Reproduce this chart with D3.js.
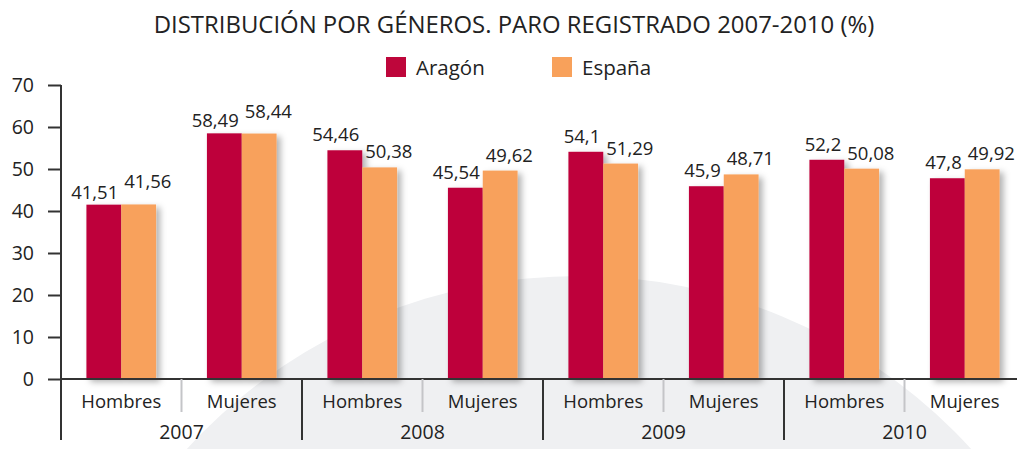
<!DOCTYPE html>
<html>
<head>
<meta charset="utf-8">
<script src="https://cdn.jsdelivr.net/npm/d3@7"></script>
<style>
  body { margin: 0; background: #fff; }
  text { font-family: "Open Sans", "Noto Sans", sans-serif; fill: #222; }
</style>
</head>
<body>
<script>
var anios = ["2007", "2008", "2009", "2010"];
var sexos = ["Hombres", "Mujeres"];
var series = ["Aragón", "España"];
var aragon = [41.51, 58.49, 54.46, 45.54, 54.1, 45.9, 52.2, 47.8];
var espana = [41.56, 58.44, 50.38, 49.62, 51.29, 48.71, 50.08, 49.92];
var ticksY = [0, 10, 20, 30, 40, 50, 60, 70];

var colores = { "Aragón": "#be063b", "España": "#f8a15b" };

var ancho = 1017, altura = 449;

var svg = d3.select("body").append("svg")
    .attr("width", ancho)
    .attr("height", altura);

var defs = svg.append("defs");
var sombra = defs.append("filter").attr("id", "sombra")
    .attr("x", "-20%").attr("y", "-20%").attr("width", "150%").attr("height", "150%");
sombra.append("feDropShadow")
    .attr("dx", 4).attr("dy", 3).attr("stdDeviation", 3)
    .attr("flood-color", "#000").attr("flood-opacity", 0.3);
var sombraLinea = defs.append("filter").attr("id", "sombraLinea")
    .attr("x", "-5%").attr("y", "-300%").attr("width", "110%").attr("height", "700%");
sombraLinea.append("feDropShadow")
    .attr("dx", 2).attr("dy", 3).attr("stdDeviation", 2)
    .attr("flood-color", "#000").attr("flood-opacity", 0.18);

// marca de agua
svg.append("circle")
    .attr("cx", 579).attr("cy", 807).attr("r", 531)
    .attr("fill", "#eff0f2");

var escalaY = d3.scaleLinear().domain([0, 70]).range([379, 85]);
var escalaAnio = d3.scaleBand().domain(anios).range([61, 1025]);
var escalaSexo = d3.scaleBand().domain(sexos).range([0, escalaAnio.bandwidth()]);
var escalaSerie = d3.scaleBand().domain(series).range([0, escalaSexo.bandwidth()]).paddingOuter(0.73);

// Title
var titulo = svg.append("text")
    .attr("x", 514).attr("y", 33)
    .attr("text-anchor", "middle")
    .style("font-family", "'Liberation Sans Narrow', 'Open Sans', sans-serif")
    .style("font-size", "22px")
    .text("DISTRIBUCIÓN POR GÉNEROS. PARO REGISTRADO 2007-2010 (%)");
var largo = titulo.node().getComputedTextLength();
var tam = Math.min(24, 22 * 721 / largo);
titulo.style("font-size", tam + "px");

// Legend
var leyenda = svg.append("g");
var posLeyenda = [386, 552];
series.forEach(function (s, i) {
    leyenda.append("rect")
        .attr("x", posLeyenda[i]).attr("y", 57)
        .attr("width", 20).attr("height", 20)
        .attr("fill", colores[s]);
    leyenda.append("text")
        .attr("x", posLeyenda[i] + 30).attr("y", 75)
        .style("font-size", "20.5px")
        .text(s);
});

// Grid
svg.append("g").selectAll("line")
    .data(ticksY.filter(function (d) { return d > 0; }))
    .join("line")
    .attr("x1", 61).attr("x2", ancho)
    .attr("y1", function (d) { return escalaY(d); })
    .attr("y2", function (d) { return escalaY(d); })
    .attr("stroke", "#c9cacd")
    .attr("stroke-width", 2)
    .attr("filter", "url(#sombraLinea)");

// data table
var filas = [];
anios.forEach(function (a, i) {
    sexos.forEach(function (s, j) {
        var k = i * 2 + j;
        filas.push({ anio: a, sexo: s, valores: [aragon[k], espana[k]] });
    });
});

var grupos = svg.append("g").selectAll("g")
    .data(filas)
    .join("g")
    .attr("transform", function (d) {
        return "translate(" + (escalaAnio(d.anio) + escalaSexo(d.sexo)) + ",0)";
    });

grupos.append("g").attr("filter", "url(#sombra)")
    .selectAll("rect")
    .data(function (d) { return series.map(function (s, i) { return { serie: s, valor: d.valores[i] }; }); })
    .join("rect")
    .attr("x", function (d) { return escalaSerie(d.serie); })
    .attr("width", escalaSerie.bandwidth())
    .attr("y", function (d) { return escalaY(d.valor); })
    .attr("height", function (d) { return escalaY(0) - escalaY(d.valor); })
    .attr("fill", function (d) { return colores[d.serie]; });

// value labels
grupos.each(function (d) {
    var g = d3.select(this);
    var cerca = Math.abs(d.valores[0] - d.valores[1]) < 2;
    var fmt = function (v) { return String(v).replace(".", ","); };
    g.append("text")
        .attr("x", escalaSerie("Aragón") + escalaSerie.bandwidth() - 3)
        .attr("y", escalaY(d.valores[0]) - (cerca ? 6 : 9))
        .attr("text-anchor", "end")
        .style("font-size", "18.5px")
        .text(fmt(d.valores[0]));
    g.append("text")
        .attr("x", escalaSerie("España") + 3)
        .attr("y", escalaY(d.valores[1]) - (cerca ? 16 : 9))
        .attr("text-anchor", "start")
        .style("font-size", "18.5px")
        .text(fmt(d.valores[1]));
});

// Y axis
var ejeY = d3.axisLeft(escalaY).tickValues(ticksY).tickSize(13).tickPadding(14);
var gEjeY = svg.append("g")
    .attr("transform", "translate(61,0)")
    .call(ejeY);
gEjeY.select(".domain").remove();
gEjeY.selectAll(".tick line").attr("stroke", "#333").attr("stroke-width", 2);
gEjeY.selectAll(".tick text")
    .style("font-size", "19.5px")
    .style("font-family", "'Open Sans', sans-serif")
    .attr("fill", "#222");
svg.append("line")
    .attr("x1", 61).attr("x2", 61)
    .attr("y1", 85).attr("y2", 440)
    .attr("stroke", "#333").attr("stroke-width", 2);

// X baseline
svg.append("line")
    .attr("x1", 61).attr("x2", ancho)
    .attr("y1", escalaY(0)).attr("y2", escalaY(0))
    .attr("stroke", "#333").attr("stroke-width", 2);

// separators
anios.forEach(function (a, i) {
    if (i > 0) {
        svg.append("line")
            .attr("x1", escalaAnio(a)).attr("x2", escalaAnio(a))
            .attr("y1", escalaY(0)).attr("y2", 440)
            .attr("stroke", "#333").attr("stroke-width", 2);
    }
    svg.append("line")
        .attr("x1", escalaAnio(a) + escalaSexo("Mujeres"))
        .attr("x2", escalaAnio(a) + escalaSexo("Mujeres"))
        .attr("y1", escalaY(0)).attr("y2", 412)
        .attr("stroke", "#c4c5c8").attr("stroke-width", 2);
    sexos.forEach(function (s) {
        svg.append("text")
            .attr("x", escalaAnio(a) + escalaSexo(s) + escalaSexo.bandwidth() / 2)
            .attr("y", 408)
            .attr("text-anchor", "middle")
            .style("font-size", "18.5px")
            .text(s);
    });
    svg.append("text")
        .attr("x", escalaAnio(a) + escalaAnio.bandwidth() / 2)
        .attr("y", 439)
        .attr("text-anchor", "middle")
        .style("font-size", "19.5px")
        .text(a);
});
</script>
</body>
</html>
